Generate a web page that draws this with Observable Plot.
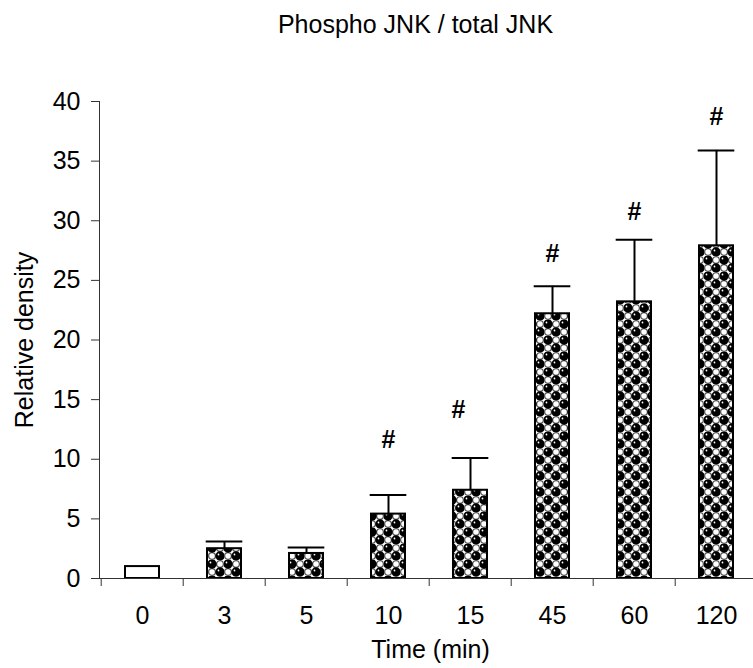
<!DOCTYPE html>
<html>
<head>
<meta charset="utf-8">
<script src="https://cdn.jsdelivr.net/npm/d3@7"></script>
<script src="https://cdn.jsdelivr.net/npm/@observablehq/plot@0.6"></script>
<style>
  html, body { margin: 0; padding: 0; background: white; }
  svg { font-family: "Liberation Sans", Arial, sans-serif; }
</style>
</head>
<body>
<div id="chart"></div>
<script>
const categories = ["0", "3", "5", "10", "15", "45", "60", "120"];
const means = [1.0, 2.5, 2.1, 5.4, 7.4, 22.2, 23.2, 27.9];
const errors = [0, 0.6, 0.5, 1.6, 2.7, 2.3, 5.2, 8.0];
const marks = ["", "", "", "#", "#", "#", "#", "#"];
const markLevels = [null, null, null, 11.6, 14.1, 27.2, 30.7, 38.7];
const yTicks = [0, 5, 10, 15, 20, 25, 30, 35, 40];

const title = "Phospho JNK / total JNK";
const xTitle = "Time (min)";
const yTitle = "Relative density";

const rows = categories.map((c, i) => ({
  time: c, mean: means[i], top: means[i] + errors[i], mark: marks[i], level: markLevels[i]
}));

function patternDefs() {
  const g = d3.create("svg:g");
  const p = g.append("defs").append("pattern")
    .attr("id", "sphere").attr("patternUnits", "userSpaceOnUse")
    .attr("width", 16).attr("height", 16);
  p.append("rect").attr("width", 16).attr("height", 16).attr("fill", "white");
  for (const [cx, cy] of [[12, 4], [4, 12]]) {
    p.append("circle").attr("cx", cx).attr("cy", cy).attr("r", 3.4)
      .attr("fill", "white").attr("stroke", "#555").attr("stroke-width", 1.3);
  }
  for (const [cx, cy] of [[4, 4], [12, 12]]) {
    p.append("circle").attr("cx", cx).attr("cy", cy).attr("r", 4.7).attr("fill", "black");
    p.append("circle").attr("cx", cx - 1.5).attr("cy", cy - 1.5).attr("r", 0.9).attr("fill", "white");
  }
  return g.node();
}

const step = (760 - 99) / categories.length;
const font = 25;

const chart = Plot.plot({
  width: 753,
  height: 668,
  marginTop: 101,
  marginBottom: 90,
  marginLeft: 99,
  marginRight: 0,
  style: { fontFamily: "'Liberation Sans', Arial, sans-serif", background: "white", color: "black" },
  x: { domain: categories, range: [99, 760], paddingInner: 0.58, paddingOuter: 0.29 },
  y: { domain: [0, 40] },
  marks: [
    patternDefs,
    Plot.axisY({ ticks: yTicks, tickSize: 8, tickPadding: 11, fontSize: font, label: null, stroke: "#333", fill: "black" }),
    Plot.axisX({ tickSize: 8, tickFormat: () => "", dx: -step / 2, label: null, stroke: "#333" }),
    Plot.axisX({ tickSize: 0, tickPadding: 28, fontSize: font, label: null, fill: "black" }),
    Plot.frame({ anchor: "left", stroke: "#333" }),
    Plot.ruleX(rows, { x: "time", y1: "mean", y2: "top", stroke: "black", strokeWidth: 2 }),
    Plot.tickY(rows.filter(d => d.top > d.mean), { x: "time", y: "top", stroke: "black", strokeWidth: 2, inset: (step - 12) / 2 }),
    Plot.barY(rows.filter(d => d.time === "0"), { x: "time", y: "mean", fill: "white", stroke: "black", strokeWidth: 2 }),
    Plot.barY(rows.filter(d => d.time !== "0"), { x: "time", y: "mean", fill: "url(#sphere)", stroke: "black", strokeWidth: 2 }),
    Plot.ruleY([0], { stroke: "#333" }),
    Plot.text(rows.filter(d => d.mark && d.time !== "15"), { x: "time", y: "level", text: "mark", fontSize: font, fontWeight: "bold", fill: "black" }),
    Plot.text(rows.filter(d => d.mark && d.time === "15"), { x: "time", y: "level", text: "mark", fontSize: font, fontWeight: "bold", fill: "black", dx: -12 }),
    Plot.text([title], { frameAnchor: "top", lineAnchor: "middle", dy: -77, dx: -11, fontSize: font, fill: "black" }),
    Plot.text([xTitle], { frameAnchor: "bottom", lineAnchor: "middle", dy: 71, dx: 4, fontSize: font, fill: "black" }),
    Plot.text([yTitle], { frameAnchor: "left", textAnchor: "middle", lineAnchor: "middle", dx: -75, rotate: -90, fontSize: font, fill: "black" })
  ]
});
document.getElementById("chart").appendChild(chart);
</script>
</body>
</html>
